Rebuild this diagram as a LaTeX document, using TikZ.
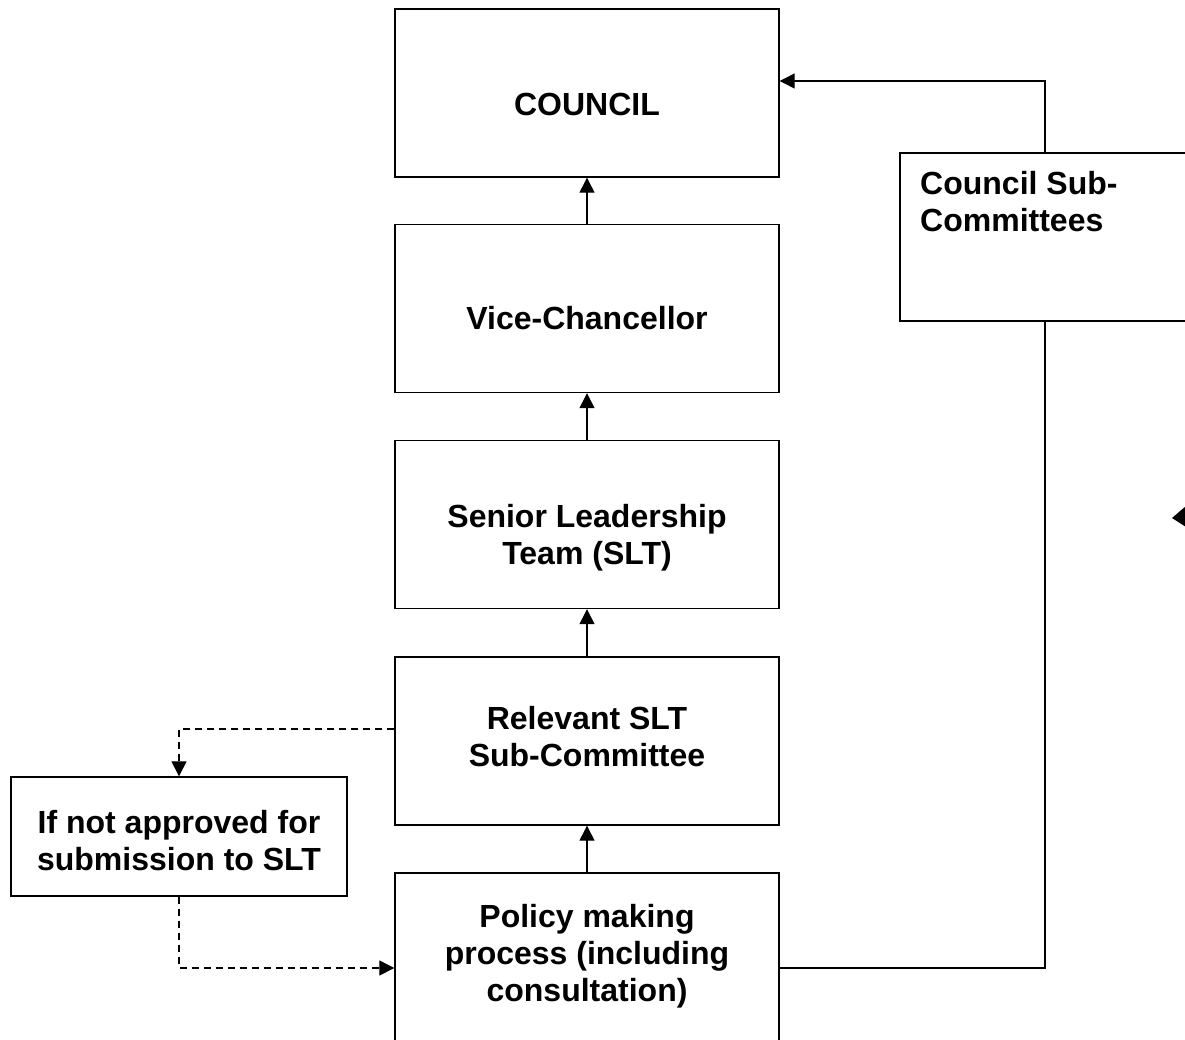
\documentclass[tikz,border=0pt]{standalone}
\usepackage{fontspec}
\setmainfont{Liberation Sans}
\usetikzlibrary{arrows.meta}
\tikzset{
  frame/.style={draw, line width=1.4pt, minimum width=384pt, minimum height=168pt, inner sep=0pt},
  boxtext/.style={font=\bfseries\fontsize{32}{37}\selectfont, align=center, inner sep=0pt},
  link/.style={line width=1.3pt, ->},
  dashlink/.style={link, dash pattern=on 7pt off 5pt},
}
\begin{document}
\begin{tikzpicture}[x=1pt, y=-1pt, >={Triangle[length=15pt,width=15pt]}]
  \useasboundingbox (0,0) rectangle (1185,1039);
  \clip (0,0) rectangle (1185,1039);
  % boxes
  \node[frame] (council) at (587,93) {};
  \node[frame] (vc) at (587,308.5) {};
  \node[frame] (slt) at (587,524.5) {};
  \node[frame] (rel) at (587,741) {};
  \node[frame] (pol) at (587,957) {};
  \node[frame, minimum width=336pt, minimum height=119pt] (notok) at (179,836.5) {};
  \node[frame] (csc) at (1092,237) {};
  % texts
  \node[boxtext] (council-t) at (587,104) {COUNCIL};
  \node[boxtext] (vc-t) at (587,318) {Vice-Chancellor};
  \node[boxtext] (slt-t) at (587,538) {Senior Leadership\\Team (SLT)};
  \node[boxtext] (rel-t) at (587,737) {Relevant SLT\\Sub-Committee};
  \node[boxtext] (pol-t) at (587,956) {Policy making\\process (including\\consultation)};
  \node[boxtext] (notok-t) at (179,841) {If not approved for\\submission to SLT};
  \node[boxtext, align=left, anchor=west] (csc-t) at (920,202) {Council Sub-\\Committees};
  % connectors
  \draw[link] (vc.north) -- (council.south);
  \draw[link] (slt.north) -- (vc.south);
  \draw[link] (rel.north) -- (slt.south);
  \draw[link] (pol.north) -- (rel.south);
  \draw[line width=1.3pt] ([yshift=-11pt]pol.east) -| ([xshift=-47pt]csc.south);
  \draw[link] ([xshift=-47pt]csc.north) |- ([yshift=12pt]council.east);
  \draw[dashlink] ([yshift=12pt]rel.west) -| (notok.north);
  \draw[dashlink] (notok.south) |- ([yshift=-11pt]pol.west);
  % loose arrow tip
  \fill (1172,518) -- (1186,506) -- (1186,527) -- cycle;
\end{tikzpicture}
\end{document}
